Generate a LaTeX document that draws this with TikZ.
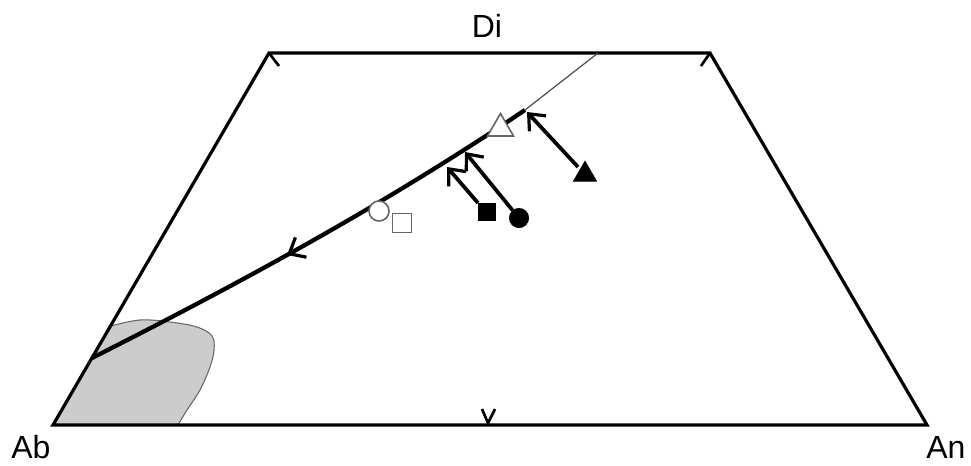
\documentclass[tikz,border=0pt]{standalone}
\usepackage{fontspec}
\setmainfont{Liberation Sans}
\usetikzlibrary{arrows.meta,shapes.geometric,decorations.markings}
\begin{document}
\begin{tikzpicture}[x=0.75pt,y=-0.75pt,
  frame/.style={line width=2.4pt, line join=miter},
  tickmark/.style={line width=2pt},
  mainline/.style={line width=3.2pt},
  thinline/.style={line width=0.9pt, draw=black!70},
  barb/.style={line width=2.8pt, -{Straight Barb[length=10pt,width=17pt,line width=2.4pt]}},
  lbl/.style={font=\fontsize{24}{28}\selectfont, inner sep=0pt},
  openmk/.style={draw=black!60, fill=white, line width=1.2pt, inner sep=0pt},
  fullmk/.style={draw=black, fill=black, line width=0.5pt, inner sep=0pt},
  region/.style={fill=black!20, draw=black!60, line width=0.8pt}
]
\useasboundingbox (0,0) rectangle (971,465);
% corners
\coordinate (AB) at (53,425);
\coordinate (AN) at (927,425);
\coordinate (TL) at (269,53);
\coordinate (TR) at (710,53);
% shaded field
\path[region] plot[smooth, tension=0.6] coordinates {(111,326) (140,320) (170,322) (197,327) (212,336) (214,350) (210,367) (200,390) (187,410) (178,425)} -- (AB) -- cycle;
% frame
\draw[frame] (AB) -- (TL) -- (TR) -- (AN) -- cycle;
% ticks
\draw[tickmark] (TL) -- (279,66);
\draw[tickmark] (TR) -- (701,66);
\draw[tickmark] (482,409) -- (488,423) -- (495,409);
% cotectic line
\coordinate (E0) at (598,53);
\coordinate (E1) at (525,110);
\coordinate (E2) at (92,358);
\draw[thinline] (E1) -- (E0);
\draw[mainline, postaction={decorate}, decoration={markings, mark=at position 209pt with {\arrow{Straight Barb[length=10pt,width=17pt,line width=2.4pt]}}}]
  (E1) .. controls (381,207) and (236,285) .. (E2);
% open symbols
\node[openmk, circle, minimum size=15pt] (oc) at (379,211) {};
\node[openmk, rectangle, minimum size=14pt] (os) at (402,223) {};
\node[openmk, regular polygon, regular polygon sides=3, minimum size=22.5pt] (ot) at (500.5,128.5) {};
% filled symbols
\node[fullmk, rectangle, minimum size=13pt] (fs) at (487,212) {};
\node[fullmk, circle, minimum size=14.5pt] (fc) at (519,218) {};
\node[fullmk, regular polygon, regular polygon sides=3, minimum size=20pt] (ft) at (585,174.5) {};
% arrows
\coordinate (t1) at (447,167);
\coordinate (t2) at (465,152);
\coordinate (t3) at (527,112);
\draw[barb] (fs.north west) -- (t1);
\draw[barb] (fc.130) -- (t2);
\draw[barb] (578,167) -- (t3);
% labels
\node[lbl, anchor=base] (di) at (487,37) {Di};
\node[lbl, anchor=base west] (ab) at (11,458) {Ab};
\node[lbl, anchor=base west] (an) at (926,458) {An};
\end{tikzpicture}
\end{document}
